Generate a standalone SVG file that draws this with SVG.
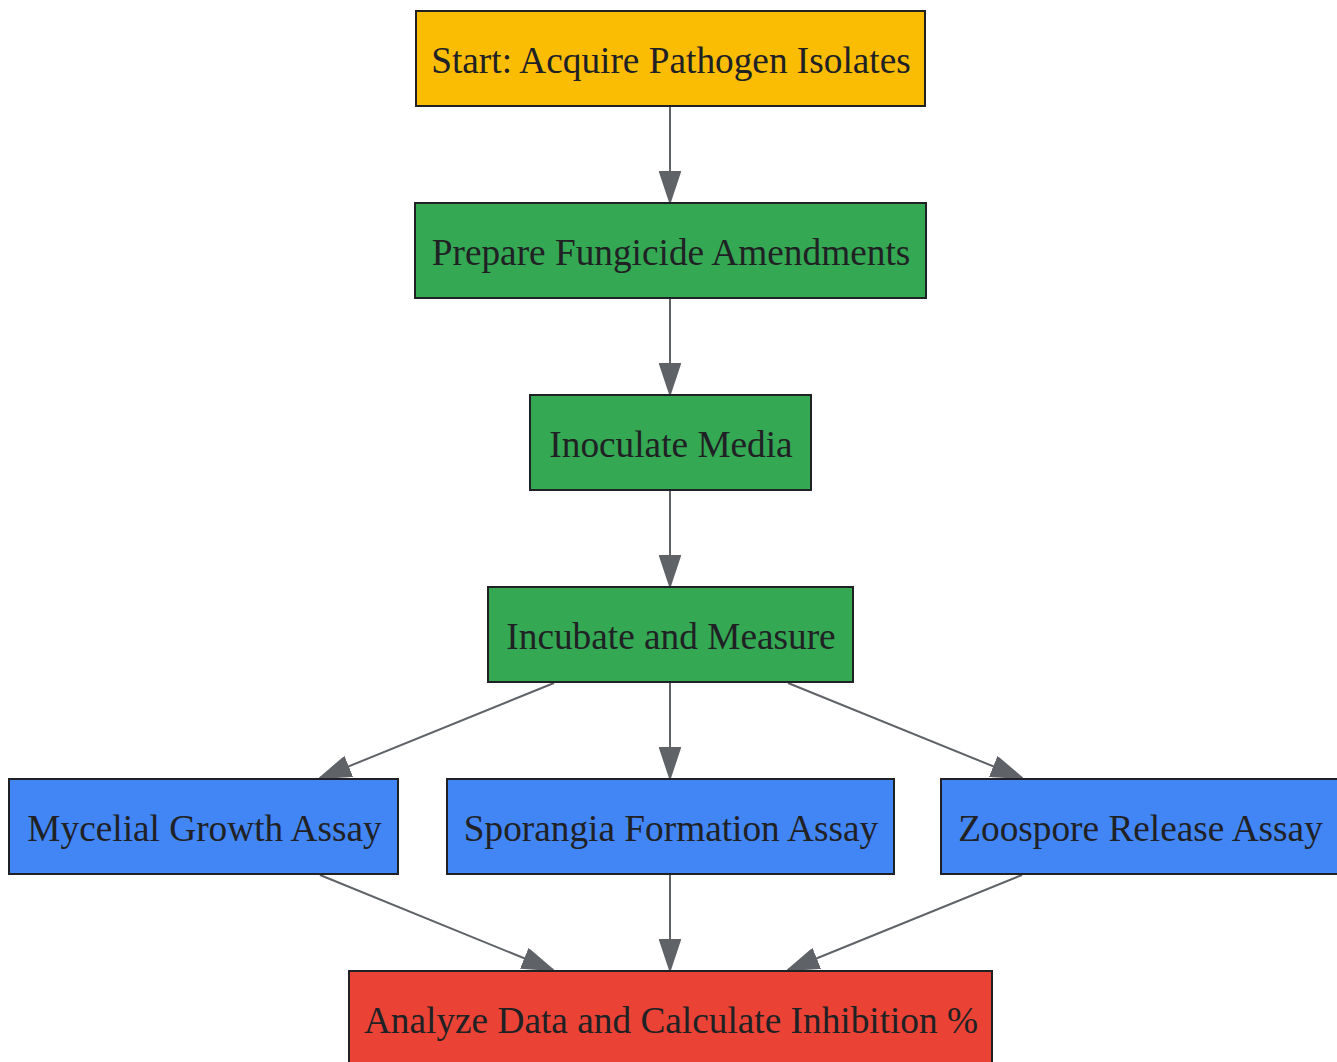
<svg xmlns="http://www.w3.org/2000/svg" width="1337" height="1062" viewBox="0 0 1337 1062">
<defs>
<marker id="ah" markerUnits="userSpaceOnUse" markerWidth="32" markerHeight="22" refX="31" refY="11" orient="auto">
<path d="M1,1 L31,11 L1,21 Z" fill="#5F6368" stroke="#5F6368" stroke-width="2"/>
</marker>
<style>
.n rect{stroke:#202124;stroke-width:2}
.n text{font-family:"Liberation Serif","Times New Roman",serif;font-size:37.3px;fill:#202124;text-anchor:middle}
#edges line{stroke:#5F6368;stroke-width:2;marker-end:url(#ah)}
</style>
</defs>
<rect width="1337" height="1062" fill="#ffffff"/>
<g id="edges">
<line x1="670" y1="106" x2="670" y2="202"/>
<line x1="670" y1="298" x2="670" y2="394"/>
<line x1="670" y1="490" x2="670" y2="586"/>
<line x1="554" y1="683" x2="320" y2="778"/>
<line x1="670" y1="683" x2="670" y2="778"/>
<line x1="788" y1="683" x2="1022" y2="778"/>
<line x1="320" y1="875" x2="553" y2="970"/>
<line x1="670" y1="875" x2="670" y2="970"/>
<line x1="1022" y1="875" x2="788" y2="970"/>
</g>
<g id="start" class="n"><rect x="416" y="11" width="509" height="95" fill="#FBBC04"/><text x="671" y="73">Start: Acquire Pathogen Isolates</text></g>
<g id="prepare" class="n"><rect x="415" y="203" width="511" height="95" fill="#34A853"/><text x="671" y="265">Prepare Fungicide Amendments</text></g>
<g id="inoculate" class="n"><rect x="530" y="395" width="281" height="95" fill="#34A853"/><text x="671" y="457">Inoculate Media</text></g>
<g id="incubate" class="n"><rect x="488" y="587" width="365" height="95" fill="#34A853"/><text x="671" y="649">Incubate and Measure</text></g>
<g id="mycelial" class="n"><rect x="9" y="779" width="389" height="95" fill="#4285F4"/><text x="204.5" y="841">Mycelial Growth Assay</text></g>
<g id="sporangia" class="n"><rect x="447" y="779" width="447" height="95" fill="#4285F4"/><text x="671" y="841">Sporangia Formation Assay</text></g>
<g id="zoospore" class="n"><rect x="941" y="779" width="400" height="95" fill="#4285F4"/><text x="1140.5" y="841">Zoospore Release Assay</text></g>
<g id="analyze" class="n"><rect x="349" y="971" width="643" height="95" fill="#EA4335"/><text x="671" y="1033">Analyze Data and Calculate Inhibition %</text></g>
</svg>
